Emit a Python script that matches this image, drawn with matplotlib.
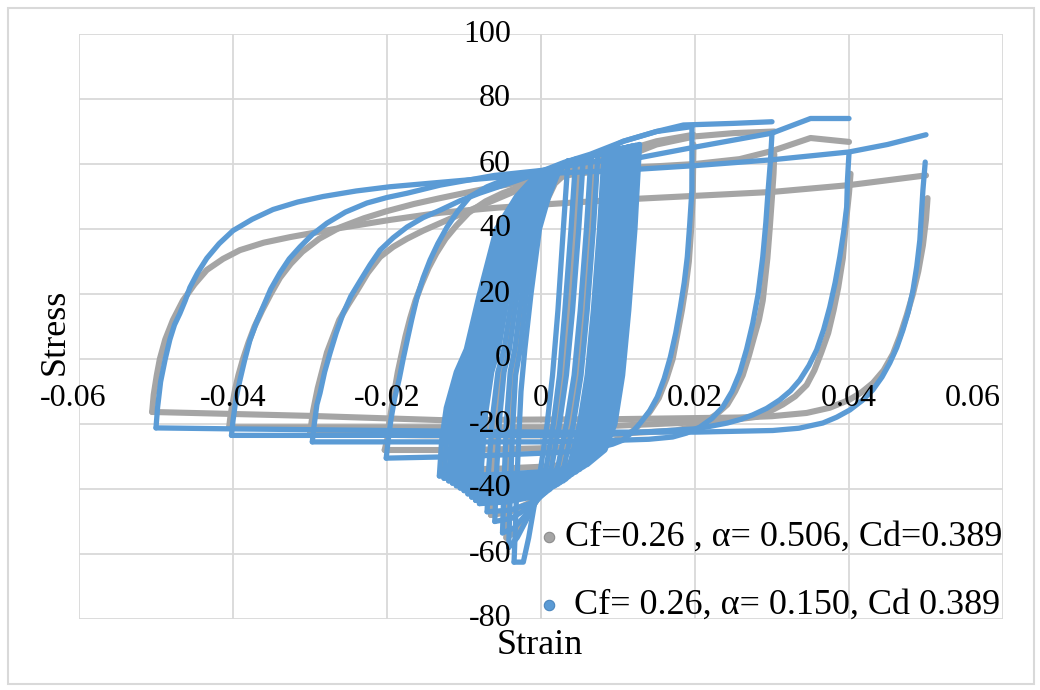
import matplotlib
matplotlib.use("Agg")
import matplotlib.pyplot as plt
from matplotlib.lines import Line2D
from matplotlib.patches import Rectangle
import matplotlib.transforms as mtransforms

plt.rcParams['font.family'] = ['Liberation Serif', 'DejaVu Serif']

# ---------------- data (strain, stress) ----------------
# Series 1 (gray): Cf=0.26 , alpha=0.506, Cd=0.389
g50_rx = [-0.0505, -0.0503, -0.0499, -0.0495, -0.0488, -0.0478, -0.0465, -0.0450, -0.0434, -0.0413, -0.0391, -0.0360, -0.0326, -0.0261, -0.0196, -0.0131, -0.0060, 0.0000, 0.0100, 0.0200, 0.0300, 0.0400, 0.0500]
g50_ry = [-16.3, -11, -5, 0, 6, 12, 18, 23, 27.4, 30.8, 33.5, 35.8, 37.5, 40.3, 42.8, 45, 46.5, 47.5, 49, 50.2, 51.4, 53.5, 56.5]
g50_ux = [0.0502, 0.0500, 0.0496, 0.0490, 0.0483, 0.0475, 0.0466, 0.0457, 0.0445, 0.0431, 0.0416, 0.0400, 0.0375, 0.0345, 0.0300, 0.0258, 0.0100, -0.0131, -0.0300, -0.0505]
g50_uy = [49.5, 43, 35, 27, 20, 13.5, 7, 1.5, -3.5, -7.4, -10.3, -12.6, -15, -16.6, -17.6, -18, -18.5, -18.8, -17.5, -16.3]

g40_rx = [-0.0405, -0.0403, -0.0400, -0.0397, -0.0393, -0.0387, -0.0380, -0.0372, -0.0362, -0.0351, -0.0339, -0.0325, -0.0310, -0.0288, -0.0261, -0.0230, -0.0200, -0.0165, -0.0131, -0.0060, 0.0000, 0.0064, 0.0129, 0.0200, 0.0258, 0.0300, 0.0350, 0.0400]
g40_ry = [-21, -17, -13, -9, -5, 0, 5, 10, 15, 20, 25, 29.3, 33, 37, 40.5, 43.3, 45.5, 47.7, 49.5, 53, 55.5, 57.5, 59, 60, 61.5, 64, 68, 66.8]
g40_ux = [0.0402, 0.0400, 0.0396, 0.0392, 0.0386, 0.0380, 0.0373, 0.0364, 0.0355, 0.0345, 0.0330, 0.0314, 0.0298, 0.0280, 0.0240, 0.0200, 0.0100, 0.0000, -0.0200, -0.0405]
g40_uy = [57, 51, 42, 31, 22, 15, 8, 2, -3.5, -8, -11.5, -14, -16, -17.8, -19, -19.5, -20.5, -21, -21, -21]

g30_rx = [-0.0300, -0.0298, -0.0296, -0.0293, -0.0290, -0.0284, -0.0278, -0.0270, -0.0262, -0.0251, -0.0239, -0.0225, -0.0209, -0.0192, -0.0174, -0.0153, -0.0131, -0.0105, -0.0080, -0.0030, 0.0000, 0.0064, 0.0107, 0.0150, 0.0200, 0.0250, 0.0303]
g30_ry = [-23, -19.5, -16, -12.5, -9, -3.5, 2, 7, 12, 16.5, 21, 26.5, 31.4, 34.5, 37, 39.5, 41.8, 44.5, 47, 52, 54.5, 58.5, 62, 66, 68.5, 69.5, 70]
g30_ux = [0.0303, 0.0302, 0.0300, 0.0297, 0.0294, 0.0288, 0.0283, 0.0277, 0.0270, 0.0262, 0.0252, 0.0242, 0.0228, 0.0212, 0.0195, 0.0175, 0.0100, 0.0000, -0.0150, -0.0300]
g30_uy = [63, 57, 50, 40, 31, 18, 12, 7, 1, -5, -10, -14, -17, -19.5, -21, -22, -23, -23.5, -23.5, -23]

g20_rx = [-0.0203, -0.0201, -0.0199, -0.0197, -0.0194, -0.0190, -0.0186, -0.0181, -0.0176, -0.0170, -0.0163, -0.0155, -0.0146, -0.0136, -0.0124, -0.0110, -0.0094, -0.0072, -0.0050, -0.0025, 0.0000, 0.0064, 0.0107, 0.0150, 0.0198]
g20_ry = [-28, -26, -24, -19.5, -15, -9.5, -4, 1.5, 7, 12.5, 18, 23, 28, 32.5, 37, 41, 45, 48.5, 51, 53.2, 55, 60, 64, 67, 69]
g20_ux = [0.0198, 0.0197, 0.0195, 0.0192, 0.0188, 0.0183, 0.0177, 0.0171, 0.0163, 0.0153, 0.0142, 0.0131, 0.0120, 0.0108, 0.0094, 0.0080, 0.0040, 0.0000, -0.0100, -0.0203]
g20_uy = [66, 50, 40, 30, 22.5, 15, 7.5, 0, -6, -12, -16, -19.5, -22, -24, -25.2, -26, -27, -27.5, -28, -28]

gs1_rx = [-0.0126, -0.0123, -0.0117, -0.0105, -0.0092, -0.0075, -0.0054, -0.0029, -0.0003, 0.0040, 0.0088, 0.0123]
gs1_ry = [-34, -24, -14, -4, 3, 19, 37, 47, 54, 58.5, 61.5, 63]
gs1_ux = [0.0123, 0.0117, 0.0109, 0.0101, 0.0091, 0.0078, 0.0055, 0.0015, -0.0060, -0.0126]
gs1_uy = [63, 40, 15, -5, -20, -27, -31, -33, -33.8, -34]
gs2_rx = [-0.0105, -0.0102, -0.0096, -0.0085, -0.0074, -0.0059, -0.0041, -0.0019, 0.0003, 0.0040, 0.0078, 0.0104]
gs2_ry = [-38, -26, -15, -4, 3, 19, 37, 47, 54, 58.5, 60.5, 62]
gs2_ux = [0.0104, 0.0098, 0.0090, 0.0082, 0.0072, 0.0059, 0.0036, -0.0002, -0.0058, -0.0105]
gs2_uy = [62, 40, 15, -5, -20, -30, -35, -37, -37.7, -38]
gs3_rx = [-0.0085, -0.0082, -0.0077, -0.0068, -0.0058, -0.0046, -0.0030, -0.0012, 0.0007, 0.0040, 0.0068, 0.0086]
gs3_ry = [-42, -30, -16, -4, 3, 19, 37, 47, 54, 58.5, 60, 61]
gs3_ux = [0.0086, 0.0080, 0.0072, 0.0064, 0.0054, 0.0041, 0.0021, -0.0010, -0.0048, -0.0085]
gs3_uy = [61, 40, 15, -5, -20, -31, -37.5, -40.5, -41.7, -42]
gs4_rx = [-0.0065, -0.0063, -0.0059, -0.0052, -0.0044, -0.0034, -0.0019, -0.0004, 0.0013, 0.0040, 0.0058, 0.0070]
gs4_ry = [-48, -35, -18, -4, 3, 19, 37, 47, 54, 58, 59.2, 60]
gs4_ux = [0.0070, 0.0064, 0.0056, 0.0048, 0.0038, 0.0026, 0.0009, -0.0017, -0.0040, -0.0065]
gs4_uy = [60, 40, 15, -5, -20, -32, -40, -44.5, -47, -48]
gs5_rx = [-0.0045, -0.0043, -0.0040, -0.0036, -0.0030, -0.0022, -0.0010, 0.0004, 0.0018, 0.0034, 0.0044, 0.0050]
gs5_ry = [-55, -40, -21, -4, 3, 19, 37, 47, 54, 57.5, 58.5, 59]
gs5_ux = [0.0050, 0.0044, 0.0036, 0.0028, 0.0020, 0.0011, -0.0002, -0.0020, -0.0033, -0.0045]
gs5_uy = [59, 40, 15, -5, -20, -33, -42, -49, -53, -55]

# Series 2 (blue): Cf= 0.26, alpha= 0.150, Cd 0.389
b50_rx = [-0.0500, -0.0498, -0.0494, -0.0488, -0.0482, -0.0476, -0.0469, -0.0462, -0.0456, -0.0446, -0.0434, -0.0418, -0.0400, -0.0375, -0.0348, -0.0316, -0.0283, -0.0240, -0.0196, -0.0100, 0.0000, 0.0100, 0.0200, 0.0300, 0.0400, 0.0450, 0.0500]
b50_ry = [-21.2, -15, -7, 0, 6, 10.5, 14, 18, 22, 26.5, 31, 35.5, 39.5, 43, 46, 48.3, 50, 51.7, 53, 55, 57, 58, 59.5, 61.3, 63.7, 66, 69]
b50_ux = [0.0499, 0.0496, 0.0492, 0.0488, 0.0483, 0.0477, 0.0470, 0.0462, 0.0453, 0.0443, 0.0431, 0.0417, 0.0401, 0.0384, 0.0366, 0.0335, 0.0301, 0.0200, 0.0100, 0.0000, -0.0200, -0.0400, -0.0500]
b50_uy = [60.6, 52, 36.6, 28.5, 21, 14.5, 8.9, 3.5, -1.2, -5.5, -9.5, -12.8, -15.7, -17.9, -19.7, -21.3, -22, -22.5, -22.5, -22.5, -22, -21.5, -21.2]

b40_rx = [-0.0402, -0.0400, -0.0396, -0.0391, -0.0385, -0.0378, -0.0370, -0.0361, -0.0351, -0.0339, -0.0327, -0.0313, -0.0297, -0.0278, -0.0254, -0.0226, -0.0200, -0.0174, -0.0131, -0.0060, 0.0000, 0.0064, 0.0129, 0.0200, 0.0300, 0.0350, 0.0400]
b40_ry = [-23.5, -19, -12, -6.5, -0.5, 5.8, 11, 16, 21.5, 26.5, 30.8, 34.5, 38.3, 41.8, 45.2, 48, 49.7, 51, 53.5, 56.5, 58, 60.6, 62, 65.2, 69.5, 74, 74]
b40_ux = [0.0400, 0.0398, 0.0397, 0.0393, 0.0388, 0.0382, 0.0375, 0.0367, 0.0358, 0.0348, 0.0336, 0.0324, 0.0310, 0.0293, 0.0275, 0.0259, 0.0242, 0.0220, 0.0200, 0.0100, 0.0000, -0.0200, -0.0402]
b40_uy = [63.4, 55, 46.8, 39, 31.4, 23.5, 16, 9, 2.8, -2, -6.5, -9.8, -12.6, -15.2, -17.2, -18.6, -19.7, -20.7, -21.5, -23, -23.5, -23.5, -23.5]

b30_rx = [-0.0297, -0.0295, -0.0291, -0.0287, -0.0281, -0.0274, -0.0266, -0.0257, -0.0247, -0.0235, -0.0222, -0.0209, -0.0192, -0.0174, -0.0153, -0.0131, -0.0105, -0.0080, -0.0030, 0.0000, 0.0064, 0.0107, 0.0150, 0.0185, 0.0250, 0.0300]
b30_ry = [-25.5, -21, -14, -10.5, -4, 1.8, 8, 14, 19.3, 24, 29, 33.5, 37.3, 40.6, 43.5, 45.8, 48.7, 51, 55, 57.5, 62, 67, 70, 72, 72.5, 73]
b30_ux = [0.0300, 0.0298, 0.0295, 0.0292, 0.0288, 0.0282, 0.0275, 0.0267, 0.0258, 0.0248, 0.0236, 0.0222, 0.0206, 0.0189, 0.0171, 0.0140, 0.0100, 0.0000, -0.0150, -0.0297]
b30_uy = [69.5, 61, 52, 42, 31.4, 20, 11, 3, -4.3, -10, -14.8, -18.3, -21, -22.8, -24, -24.7, -25, -25.5, -25.5, -25.5]

b20_rx = [-0.0201, -0.0199, -0.0195, -0.0190, -0.0184, -0.0179, -0.0174, -0.0168, -0.0161, -0.0153, -0.0144, -0.0134, -0.0122, -0.0108, -0.0092, -0.0070, -0.0049, -0.0020, 0.0003, 0.0030, 0.0064, 0.0107, 0.0150, 0.0196]
b20_ry = [-30.5, -26, -18.8, -12, -6, 0, 5.5, 12, 19, 25, 30.5, 35.5, 40.6, 45.5, 50, 53, 55, 57, 58, 60.5, 63, 67, 70, 71.5]
b20_ux = [0.0196, 0.0196, 0.0196, 0.0193, 0.0190, 0.0186, 0.0181, 0.0175, 0.0168, 0.0160, 0.0151, 0.0141, 0.0129, 0.0118, 0.0106, 0.0093, 0.0080, 0.0040, 0.0000, -0.0100, -0.0201]
b20_uy = [71.4, 62, 52, 41, 31.4, 23.5, 16, 8, 0.6, -6, -11.7, -16, -19.7, -22.6, -25, -26.2, -27, -28.5, -29, -30, -30.5]

bs1_rx = [-0.0132, -0.0129, -0.0123, -0.0110, -0.0097, -0.0080, -0.0058, -0.0032, -0.0005, 0.0040, 0.0090, 0.0128]
bs1_ry = [-36, -25, -15, -4, 3, 20, 40, 50, 57, 61, 64, 66]
bs1_ux = [0.0128, 0.0122, 0.0114, 0.0106, 0.0096, 0.0083, 0.0060, 0.0020, -0.0060, -0.0132]
bs1_uy = [66, 40, 15, -5, -20, -28, -32.5, -34.5, -35.5, -36]
bsa_rx = [-0.0126, -0.0123, -0.0117, -0.0105, -0.0092, -0.0076, -0.0055, -0.0030, -0.0004, 0.0040, 0.0088, 0.0123]
bsa_ry = [-36.7, -25.5, -15, -4, 3, 20, 40, 50, 57, 61, 63.7, 65.7]
bsa_ux = [0.0123, 0.0117, 0.0109, 0.0101, 0.0091, 0.0078, 0.0055, 0.0015, -0.0060, -0.0126]
bsa_uy = [65.7, 40, 15, -5, -20, -28.5, -33.2, -35.2, -36.2, -36.7]
bs2_rx = [-0.0120, -0.0117, -0.0111, -0.0099, -0.0087, -0.0071, -0.0051, -0.0027, -0.0003, 0.0040, 0.0085, 0.0118]
bs2_ry = [-37.5, -26, -15, -4, 3, 20, 40, 50, 57, 61, 63.5, 65.5]
bs2_ux = [0.0118, 0.0112, 0.0104, 0.0096, 0.0086, 0.0073, 0.0050, 0.0010, -0.0060, -0.0120]
bs2_uy = [65.5, 40, 15, -5, -20, -29, -34, -36, -37, -37.5]
bsb_rx = [-0.0115, -0.0112, -0.0106, -0.0095, -0.0083, -0.0067, -0.0048, -0.0025, -0.0002, 0.0040, 0.0083, 0.0113]
bsb_ry = [-38.2, -26.5, -15, -4, 3, 20, 40, 50, 57, 61, 63.5, 65.2]
bsb_ux = [0.0113, 0.0107, 0.0099, 0.0091, 0.0081, 0.0068, 0.0045, 0.0005, -0.0060, -0.0115]
bsb_uy = [65.2, 40, 15, -5, -20, -29.5, -34.8, -37, -37.8, -38.2]
bs3_rx = [-0.0110, -0.0107, -0.0101, -0.0090, -0.0078, -0.0063, -0.0044, -0.0022, 0.0000, 0.0040, 0.0080, 0.0108]
bs3_ry = [-39, -27, -15, -4, 3, 20, 40, 50, 57, 61, 63.5, 65]
bs3_ux = [0.0108, 0.0102, 0.0094, 0.0086, 0.0076, 0.0063, 0.0040, 0.0000, -0.0060, -0.0110]
bs3_uy = [65, 40, 15, -5, -20, -30, -35.5, -38, -38.7, -39]
bsc_rx = [-0.0105, -0.0102, -0.0096, -0.0086, -0.0074, -0.0060, -0.0041, -0.0020, 0.0002, 0.0040, 0.0078, 0.0104]
bsc_ry = [-39.7, -27.5, -15, -4, 3, 20, 40, 50, 57, 61, 63.2, 64.7]
bsc_ux = [0.0104, 0.0098, 0.0090, 0.0082, 0.0072, 0.0059, 0.0036, -0.0003, -0.0058, -0.0105]
bsc_uy = [64.7, 40, 15, -5, -20, -30.5, -36.2, -38.7, -39.4, -39.7]
bs4_rx = [-0.0100, -0.0097, -0.0091, -0.0081, -0.0070, -0.0056, -0.0038, -0.0018, 0.0003, 0.0040, 0.0075, 0.0099]
bs4_ry = [-40.5, -28, -15, -4, 3, 20, 40, 50, 57, 61, 63, 64.5]
bs4_ux = [0.0099, 0.0093, 0.0085, 0.0077, 0.0067, 0.0054, 0.0032, -0.0005, -0.0055, -0.0100]
bs4_uy = [64.5, 40, 15, -5, -20, -31, -37, -39.5, -40.2, -40.5]
bsd_rx = [-0.0095, -0.0092, -0.0086, -0.0077, -0.0066, -0.0053, -0.0035, -0.0016, 0.0004, 0.0040, 0.0073, 0.0095]
bsd_ry = [-41.5, -29, -15.5, -4, 3, 20, 40, 50, 57, 61, 62.9, 64.2]
bsd_ux = [0.0095, 0.0089, 0.0081, 0.0073, 0.0063, 0.0050, 0.0029, -0.0007, -0.0053, -0.0095]
bsd_uy = [64.2, 40, 15, -5, -20, -31, -37.5, -40.2, -41.2, -41.5]
bs5_rx = [-0.0090, -0.0087, -0.0081, -0.0072, -0.0062, -0.0049, -0.0032, -0.0014, 0.0005, 0.0040, 0.0070, 0.0090]
bs5_ry = [-42.5, -30, -16, -4, 3, 20, 40, 50, 57, 61, 62.8, 64]
bs5_ux = [0.0090, 0.0084, 0.0076, 0.0068, 0.0058, 0.0045, 0.0025, -0.0008, -0.0050, -0.0090]
bs5_uy = [64, 40, 15, -5, -20, -31, -38, -41, -42.2, -42.5]
bse_rx = [-0.0085, -0.0082, -0.0077, -0.0068, -0.0059, -0.0046, -0.0030, -0.0012, 0.0007, 0.0040, 0.0068, 0.0086]
bse_ry = [-43.5, -31, -16.5, -4, 3, 20, 40, 50, 57, 61, 62.6, 63.7]
bse_ux = [0.0086, 0.0080, 0.0072, 0.0064, 0.0054, 0.0042, 0.0022, -0.0010, -0.0048, -0.0085]
bse_uy = [63.7, 40, 15, -5, -20, -31.5, -38.5, -41.7, -43.1, -43.5]
bs6_rx = [-0.0080, -0.0077, -0.0072, -0.0064, -0.0055, -0.0043, -0.0027, -0.0010, 0.0008, 0.0040, 0.0065, 0.0082]
bs6_ry = [-44.5, -32, -17, -4, 3, 20, 40, 50, 57, 61, 62.5, 63.5]
bs6_ux = [0.0082, 0.0076, 0.0068, 0.0060, 0.0050, 0.0038, 0.0018, -0.0012, -0.0045, -0.0080]
bs6_uy = [63.5, 40, 15, -5, -20, -32, -39, -42.5, -44, -44.5]
bs7_rx = [-0.0070, -0.0068, -0.0063, -0.0056, -0.0048, -0.0037, -0.0022, -0.0006, 0.0011, 0.0040, 0.0060, 0.0074]
bs7_ry = [-47, -34, -18, -4, 3, 20, 40, 50, 57, 61, 62.2, 63]
bs7_ux = [0.0074, 0.0068, 0.0060, 0.0052, 0.0042, 0.0030, 0.0012, -0.0015, -0.0040, -0.0070]
bs7_uy = [63, 40, 15, -5, -20, -33, -40, -44.5, -46.5, -47]
bs8_rx = [-0.0060, -0.0058, -0.0054, -0.0048, -0.0041, -0.0031, -0.0017, -0.0002, 0.0014, 0.0040, 0.0055, 0.0065]
bs8_ry = [-50, -36, -19, -4, 3, 20, 40, 50, 57, 60.8, 61.8, 62.5]
bs8_ux = [0.0065, 0.0059, 0.0051, 0.0043, 0.0033, 0.0022, 0.0006, -0.0018, -0.0038, -0.0060]
bs8_uy = [62.5, 40, 15, -5, -20, -33, -41, -46, -49, -50]
bs9_rx = [-0.0050, -0.0048, -0.0045, -0.0040, -0.0034, -0.0025, -0.0012, 0.0002, 0.0017, 0.0035, 0.0047, 0.0055]
bs9_ry = [-53.5, -38, -20, -4, 3, 20, 40, 50, 57, 60.5, 61.5, 62]
bs9_ux = [0.0055, 0.0049, 0.0041, 0.0033, 0.0024, 0.0014, 0.0000, -0.0020, -0.0035, -0.0050]
bs9_uy = [62, 40, 15, -5, -20, -33, -42, -48, -52, -53.5]
bs10_rx = [-0.0042, -0.0040, -0.0037, -0.0033, -0.0027, -0.0019, -0.0007, 0.0006, 0.0020, 0.0032, 0.0040, 0.0045]
bs10_ry = [-58, -42, -22, -5, 3, 20, 40, 50, 57, 60, 61, 61.5]
bs10_ux = [0.0045, 0.0039, 0.0031, 0.0024, 0.0016, 0.0007, -0.0005, -0.0020, -0.0031, -0.0042]
bs10_uy = [61.5, 40, 15, -5, -20, -33, -43, -50, -55, -58]
bs11_rx = [-0.0035, -0.0033, -0.0030, -0.0026, -0.0021, -0.0013, -0.0002, 0.0010, 0.0022, 0.0030, 0.0035]
bs11_ry = [-62.5, -50, -30, -10, 3, 20, 40, 50, 57, 60, 61]
bs11_ux = [0.0035, 0.0029, 0.0022, 0.0015, 0.0008, 0.0000, -0.0008, -0.0016, -0.0023, -0.0035]
bs11_uy = [61, 40, 15, -5, -20, -33, -44, -55, -62.5, -62.5]

x_ticks = [-0.06, -0.04, -0.02, 0.0, 0.02, 0.04, 0.06]
x_tick_labels = ["-0.06", "-0.04", "-0.02", "0", "0.02", "0.04", "0.06"]
y_ticks = [-80, -60, -40, -20, 0, 20, 40, 60, 80, 100]
y_tick_labels = ["-80", "-60", "-40", "-20", "0", "20", "40", "60", "80", "100"]
series_labels = ["Cf=0.26 , \u03b1= 0.506, Cd=0.389", " Cf= 0.26, \u03b1= 0.150, Cd 0.389"]
x_title = "Strain"
y_title = "Stress"

gray_branches = [
    (g50_rx, g50_ry), (g50_ux, g50_uy), (g40_rx, g40_ry), (g40_ux, g40_uy),
    (g30_rx, g30_ry), (g30_ux, g30_uy), (g20_rx, g20_ry), (g20_ux, g20_uy),
    (gs1_rx, gs1_ry), (gs1_ux, gs1_uy), (gs2_rx, gs2_ry), (gs2_ux, gs2_uy),
    (gs3_rx, gs3_ry), (gs3_ux, gs3_uy), (gs4_rx, gs4_ry), (gs4_ux, gs4_uy),
    (gs5_rx, gs5_ry), (gs5_ux, gs5_uy),
]
blue_branches = [
    (b50_rx, b50_ry), (b50_ux, b50_uy), (b40_rx, b40_ry), (b40_ux, b40_uy),
    (b30_rx, b30_ry), (b30_ux, b30_uy), (b20_rx, b20_ry), (b20_ux, b20_uy),
    (bs1_rx, bs1_ry), (bs1_ux, bs1_uy), (bsa_rx, bsa_ry), (bsa_ux, bsa_uy),
    (bs2_rx, bs2_ry), (bs2_ux, bs2_uy), (bsb_rx, bsb_ry), (bsb_ux, bsb_uy),
    (bs3_rx, bs3_ry), (bs3_ux, bs3_uy), (bsc_rx, bsc_ry), (bsc_ux, bsc_uy),
    (bs4_rx, bs4_ry), (bs4_ux, bs4_uy), (bsd_rx, bsd_ry), (bsd_ux, bsd_uy),
    (bs5_rx, bs5_ry), (bs5_ux, bs5_uy), (bse_rx, bse_ry), (bse_ux, bse_uy),
    (bs6_rx, bs6_ry), (bs6_ux, bs6_uy), (bs7_rx, bs7_ry), (bs7_ux, bs7_uy),
    (bs8_rx, bs8_ry), (bs8_ux, bs8_uy), (bs9_rx, bs9_ry), (bs9_ux, bs9_uy),
    (bs10_rx, bs10_ry), (bs10_ux, bs10_uy), (bs11_rx, bs11_ry), (bs11_ux, bs11_uy),
]

GRAY = "#A5A5A5"
BLUE = "#5B9BD5"
GRID = "#D9D9D9"

# ---------------- figure ----------------
W, H = 1040, 690
fig = plt.figure(figsize=(W / 100, H / 100), dpi=100)
fig.patch.set_facecolor("white")

def px_box(l, t, r, b):
    return [l / W, 1 - b / H, (r - l) / W, (b - t) / H]

ax = fig.add_axes(px_box(79, 34, 1003, 619))
ax.set_xlim(-0.06, 0.06)
ax.set_ylim(-80, 100)
for s in ax.spines.values():
    s.set_visible(False)
ax.set_xticks(x_ticks)
ax.set_yticks(y_ticks)
ax.tick_params(length=0, labelleft=False, labelbottom=False)
ax.grid(True, color=GRID, linewidth=1.3, zorder=0)
ax.set_axisbelow(True)
ax.axvline(0, color="#C8C8C8", linewidth=1.3, zorder=0.5)

for bx, by in gray_branches:
    ax.plot(bx, by, color=GRAY, linewidth=4.4, solid_joinstyle="round",
            solid_capstyle="round", zorder=2, clip_on=False)
for bx, by in blue_branches:
    ax.plot(bx, by, color=BLUE, linewidth=3.8, solid_joinstyle="round",
            solid_capstyle="round", zorder=3, clip_on=False)

# tick labels positioned on the axes crossing at zero
tfs = 23
ylab_tr = mtransforms.offset_copy(ax.transData, fig=fig, x=-30, y=0, units="dots")
for v, s in zip(y_ticks, y_tick_labels):
    ax.text(0, v, s, transform=ylab_tr, ha="right", va="center", fontsize=tfs,
            color="black", zorder=5)
for v, s in zip(x_ticks, x_tick_labels):
    dx = 0
    if v == x_ticks[0]:
        dx = -6
    elif v == x_ticks[-1]:
        dx = -30
    tr = mtransforms.offset_copy(ax.transData, fig=fig, x=dx, y=-39, units="dots")
    ax.text(v, 0, s, transform=tr, ha="center", va="center", fontsize=tfs,
            color="black", zorder=5)

# axis titles
fig.text(540 / W, 1 - 646 / H, x_title, ha="center", va="center", fontsize=26)
fig.text(55 / W, 1 - 332 / H, y_title, ha="center", va="center", fontsize=26,
         rotation=90)

# legend (manual, inside plot area bottom-right)
for (ypx, col, edge, lab) in [(537, GRAY, "#8C8C8C", series_labels[0]),
                              (605, BLUE, "#4A86BE", series_labels[1])]:
    fig.add_artist(Line2D([549 / W], [1 - ypx / H], marker="o", markersize=7.5,
                          markerfacecolor=col, markeredgecolor=edge,
                          markeredgewidth=0.8, linestyle="none",
                          transform=fig.transFigure, zorder=6))
    fig.text(565 / W, 1 - ypx / H, lab, ha="left", va="center", fontsize=26,
             zorder=6)

# chart border
fig.add_artist(Rectangle((8 / W, 1 - 684 / H), (1034 - 8) / W, (684 - 8) / H,
                         transform=fig.transFigure, fill=False,
                         edgecolor=GRID, linewidth=1.5))

fig.savefig("out.png", dpi=100, facecolor="white")
